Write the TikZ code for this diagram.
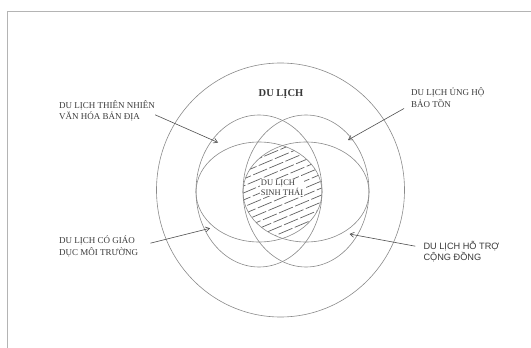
\documentclass[tikz,border=0pt]{standalone}
\usepackage{fontspec}
\setmainfont{Liberation Serif}
\newfontfamily\sanslbl{Liberation Sans}
\usepackage{tikz}
\usetikzlibrary{arrows.meta}
\definecolor{ringgray}{HTML}{8A8A8A}
\definecolor{framegray}{HTML}{B4B4B4}
\definecolor{txtgray}{HTML}{3A3A3A}

\begin{document}
\begin{tikzpicture}[x=1pt,y=-1pt,
  ring/.style={draw=ringgray,line width=0.6pt},
  hatch/.style={draw=txtgray!80,line width=0.7pt,dash pattern=on 15pt off 2.5pt},
  lbl/.style={inner sep=0pt,anchor=west,align=left,text=txtgray,
    font=\fontsize{9}{11.5}\selectfont},
  pointer/.style={draw=txtgray!90,line width=0.6pt,-{Straight Barb[length=4pt,width=5pt]}}]
  \useasboundingbox (0,0) rectangle (531,348);
  \draw[framegray,line width=1pt] (7,348)--(7,11)--(531,11);

  % hatched core
  \begin{scope}
    \clip (259,192) ellipse [x radius=63pt,y radius=50pt];
    \clip (306,192) ellipse [x radius=63pt,y radius=50pt];
    \foreach \i in {-12,...,12}
      \draw[hatch,dash phase=\i*6pt] (215,192+7*\i+27)--(350,192+7*\i-30);
  \end{scope}

  \path[ring] (280.5,190) ellipse [x radius=124pt,y radius=127pt];
  \path[ring] (259,191) ellipse [x radius=63pt,y radius=76pt];
  \path[ring] (306,191) ellipse [x radius=63pt,y radius=76pt];
  \path[ring] (259,192) ellipse [x radius=63pt,y radius=50pt];
  \path[ring] (306,192) ellipse [x radius=63pt,y radius=50pt];

  \node[text=txtgray,font=\fontsize{10.5}{12}\selectfont\bfseries] (dulich) at (281,94.5) {DU LỊCH};
  \node[fill=white,inner sep=1pt,align=left,text=txtgray,
    font=\fontsize{8.5}{10}\selectfont] (sinhthai) at (282,187.5) {DU LỊCH\\SINH THÁI};

  \node[lbl] (thien) at (59,110.8) {DU LỊCH THIÊN NHIÊN\\VĂN HÓA BẢN ĐỊA};
  \node[lbl] (ungho) at (411,97.5) {DU LỊCH ỦNG HỘ\\BẢO TỒN};
  \node[lbl] (giao) at (59,246.2) {DU LỊCH CÓ GIÁO\\DỤC MÔI TRƯỜNG};
  \node[lbl,font=\sanslbl\fontsize{9.2}{11.2}\selectfont] (hotro) at (423.3,251.2) {DU LỊCH HỖ TRỢ\\CỘNG ĐỒNG};

  \coordinate (thientip) at (218,142.5);
  \coordinate (unghotip) at (348,140);
  \coordinate (giaotip) at (210,228.3);
  \coordinate (hotrotip) at (349.5,234);

  \draw[pointer] ([yshift=-4pt]thien.east) -- (thientip);
  \draw[pointer] ([xshift=-7pt,yshift=-11pt]ungho.west) -- (unghotip);
  \draw[pointer] ([xshift=12pt,yshift=3pt]giao.east) -- (giaotip);
  \draw[pointer] ([xshift=-8pt,yshift=5pt]hotro.west) -- (hotrotip);
\end{tikzpicture}
\end{document}
